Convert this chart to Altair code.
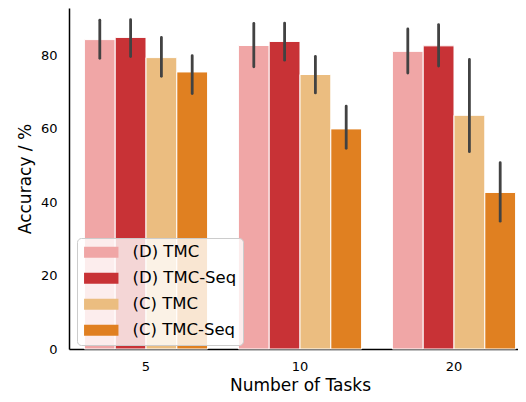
import altair as alt
import pandas as pd

tasks = ["5", "10", "20"]
methods = ["(D) TMC", "(D) TMC-Seq", "(C) TMC", "(C) TMC-Seq"]
colors = ["#F0A6A6", "#C83236", "#EBBD80", "#E08021"]

acc_d_tmc = [84.2, 82.6, 81.0]
acc_d_seq = [84.8, 83.7, 82.5]
acc_c_tmc = [79.3, 74.7, 63.6]
acc_c_seq = [75.4, 59.9, 42.6]

lo_d_tmc = [79.1, 76.8, 75.1]
lo_d_seq = [79.6, 78.6, 77.0]
lo_c_tmc = [74.2, 69.7, 53.7]
lo_c_seq = [69.5, 54.6, 34.8]

hi_d_tmc = [89.5, 88.6, 87.1]
hi_d_seq = [89.6, 88.7, 88.3]
hi_c_tmc = [84.8, 79.6, 78.8]
hi_c_seq = [79.8, 66.1, 50.7]

acc = [acc_d_tmc, acc_d_seq, acc_c_tmc, acc_c_seq]
lo = [lo_d_tmc, lo_d_seq, lo_c_tmc, lo_c_seq]
hi = [hi_d_tmc, hi_d_seq, hi_c_tmc, hi_c_seq]

rows = []
for mi, m in enumerate(methods):
    for ti, t in enumerate(tasks):
        rows.append({"tasks": t, "method": m, "acc": acc[mi][ti],
                     "lo": lo[mi][ti], "hi": hi[mi][ti]})
df = pd.DataFrame(rows)

FONT = "DejaVu Sans"

x = alt.X("tasks:N", sort=tasks,
          scale=alt.Scale(paddingInner=0, paddingOuter=0, range=[0, 462]),
          axis=alt.Axis(title="Number of Tasks", labelAngle=0, ticks=False,
                        labelPadding=11, titlePadding=4))
xo = alt.XOffset("method:N", sort=methods,
                 scale=alt.Scale(paddingInner=0, paddingOuter=0.5))
y = alt.Y("acc:Q", scale=alt.Scale(domain=[0, 92.8], nice=False, zero=True),
          axis=alt.Axis(values=[0, 20, 40, 60, 80], title="Accuracy / %",
                        ticks=False, labelPadding=12, titlePadding=6))
color = alt.Color("method:N", sort=methods,
                  scale=alt.Scale(domain=methods, range=colors),
                  legend=alt.Legend(title=None, orient="none", legendX=8, legendY=230,
                                    symbolType="M-2.15,-0.6875H2.15V0.6875H-2.15Z",
                                    symbolSize=256, symbolStrokeWidth=0,
                                    symbolOpacity=1, symbolOffset=10,
                                    labelFont=FONT, labelFontSize=16.5,
                                    labelColor="#000000", labelOffset=23,
                                    rowPadding=9, padding=6,
                                    fillColor="rgba(255,255,255,0.8)",
                                    strokeColor="#cccccc", cornerRadius=4))

bars = alt.Chart(df).mark_bar(stroke="white", strokeWidth=1, opacity=1).encode(
    x=x, xOffset=xo, y=y, color=color)
err = alt.Chart(df).mark_rule(color="#424242", strokeWidth=2.8, strokeCap="round").encode(
    x=x, xOffset=xo, y="lo:Q", y2="hi:Q")

chart = alt.layer(bars, err).properties(
    width=449, height=341,
    autosize=alt.AutoSizeParams(type="none"),
    padding={"left": 61, "top": 0, "right": 0, "bottom": 45},
).configure_view(stroke=None).configure_axis(
    grid=False, domainColor="#000000", domainWidth=1.5,
    labelFont=FONT, labelFontSize=13, labelColor="#000000",
    titleFont=FONT, titleFontSize=17, titleFontWeight="normal", titleColor="#000000",
)

chart.save("out.html", embed_options={"renderer": "svg", "actions": False})
